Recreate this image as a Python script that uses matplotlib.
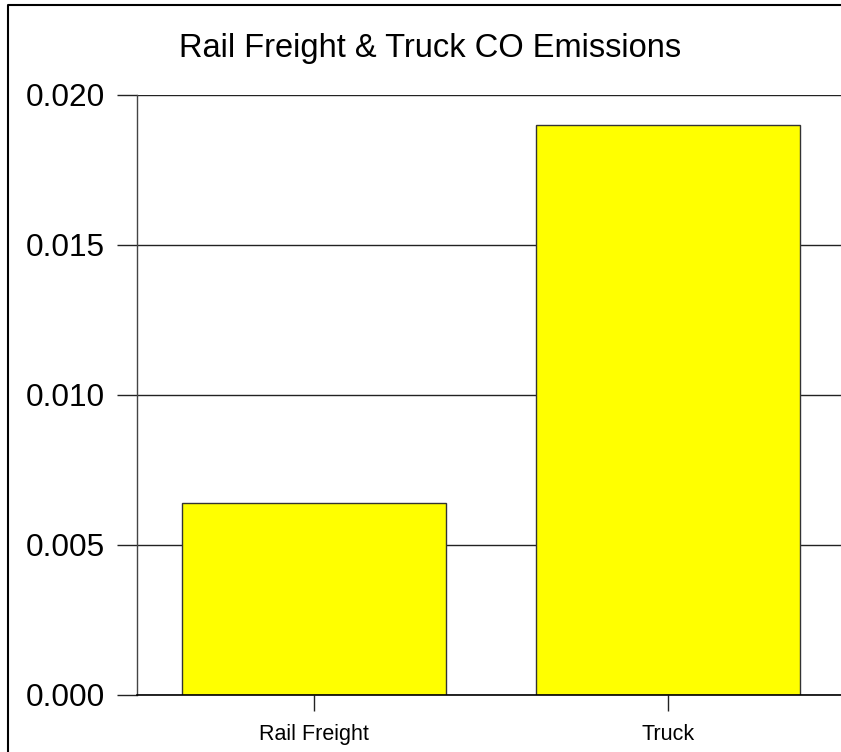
import matplotlib
matplotlib.use("Agg")
import matplotlib.pyplot as plt
from matplotlib.lines import Line2D

categories = ["Rail Freight", "Truck"]
values = [0.0064, 0.019]
yticks = [0.000, 0.005, 0.010, 0.015, 0.020]
ytick_labels = ["0.000", "0.005", "0.010", "0.015", "0.020"]
title = "Rail Freight & Truck CO Emissions"

plt.rcParams['font.family'] = ['Liberation Sans', 'DejaVu Sans']

W, H = 841, 752
fig = plt.figure(figsize=(W / 100, H / 100), dpi=100)
ax = fig.add_axes([137 / W, (H - 695) / H, 708 / W, 600 / H])

x = list(range(len(categories)))
ax.bar(x, values, width=0.746, color="#ffff00", edgecolor="#333333", linewidth=1.0, zorder=3)

ax.set_xlim(-0.5, 1.5)
ax.set_ylim(0, 0.020)
ax.set_yticks(yticks)
ax.set_yticklabels(ytick_labels, fontsize=22.7)
ax.set_xticks(x)
ax.set_xticklabels(categories, fontsize=15.5)

ax.yaxis.grid(True, color="#222222", linewidth=1.0, zorder=1)
ax.set_axisbelow(True)
ax.tick_params(axis="y", length=14.4, width=1.0, color="#222222", pad=8.5, direction="out")
ax.tick_params(axis="x", length=11.5, width=1.0, color="#222222", pad=9.5, direction="out")

for s in ["top", "right"]:
    ax.spines[s].set_visible(False)
ax.spines["left"].set_color("#444444")
ax.spines["left"].set_linewidth(1.0)
ax.spines["bottom"].set_color("#000000")
ax.spines["bottom"].set_linewidth(1.2)
ax.spines["bottom"].set_zorder(4)

fig.text(430.5 / W, 1 - 48 / H, title, fontsize=23.5, ha="center", va="center")

# figure border (left and top only)
bx = [8 / W, 8 / W, 1.01]
by = [-0.05, 1 - 5 / H, 1 - 5 / H]
fig.add_artist(Line2D(bx, by, transform=fig.transFigure, color="black", linewidth=1.5))

fig.savefig("out.png", dpi=100)
